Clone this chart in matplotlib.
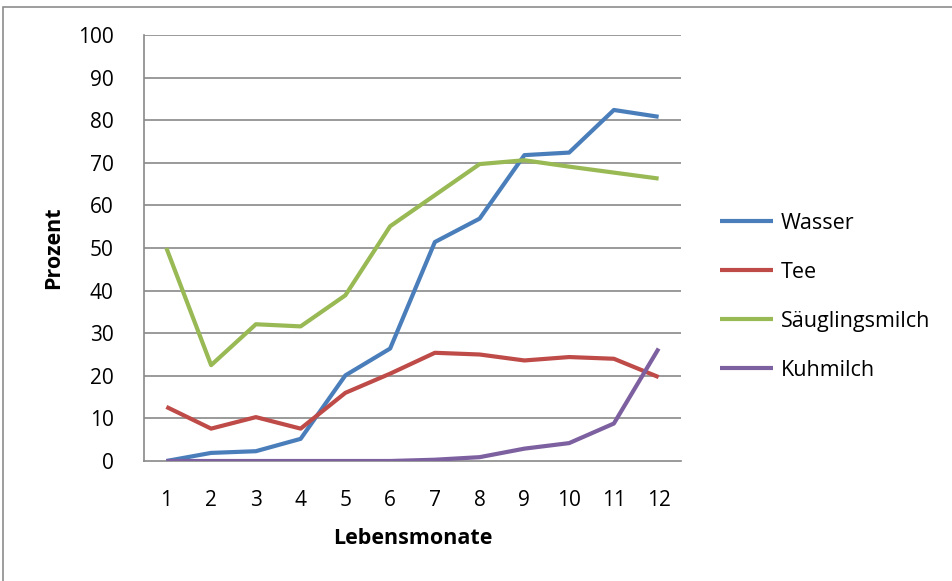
import numpy as np
import matplotlib.pyplot as plt
from matplotlib.patches import Rectangle

plt.rcParams['font.family'] = ['Open Sans', 'DejaVu Sans']

monate = [1, 2, 3, 4, 5, 6, 7, 8, 9, 10, 11, 12]
wasser = [0, 1.9, 2.3, 5.2, 20.1, 26.4, 51.4, 56.9, 71.8, 72.4, 82.4, 80.8]
tee = [12.7, 7.6, 10.3, 7.6, 16.0, 20.5, 25.4, 25.0, 23.6, 24.4, 24.0, 19.7]
saeugling = [50.0, 22.5, 32.1, 31.6, 38.9, 55.1, 62.4, 69.7, 70.6, 69.1, 67.7, 66.3]
kuhmilch = [0, 0, 0, 0, 0, 0, 0.3, 0.9, 2.9, 4.2, 8.8, 26.4]

serien = [
    ("Wasser", wasser, "#4A7EBB"),
    ("Tee", tee, "#BE4B48"),
    ("Säuglingsmilch", saeugling, "#98B954"),
    ("Kuhmilch", kuhmilch, "#7D60A0"),
]

fig = plt.figure(figsize=(9.53, 5.81), dpi=100)
ax = fig.add_axes([144 / 953, 1 - 461 / 581, 537 / 953, 426 / 581])

grau = "#898989"
for y in range(10, 101, 10):
    ax.axhline(y, color=grau, lw=1.2, zorder=1)

for name, werte, farbe in serien:
    ax.plot(monate, werte, color=farbe, lw=3, label=name, zorder=3,
            solid_joinstyle='round', solid_capstyle='butt')

ax.set_xlim(0.5, 12.5)
ax.set_ylim(0, 100)
ax.set_yticks(range(0, 101, 10))
ax.set_xticks(monate)
ax.tick_params(length=0, labelsize=15, colors="#000000")
ax.tick_params(axis='y', pad=22)
ax.tick_params(axis='x', pad=21)

for s in ['top', 'right']:
    ax.spines[s].set_visible(False)
for s in ['left', 'bottom']:
    ax.spines[s].set_color(grau)
    ax.spines[s].set_linewidth(1.2)

ax.set_ylabel("Prozent", fontsize=15.5, fontweight='bold', labelpad=10)
ax.set_xlabel("Lebensmonate", fontsize=15.5, fontweight='bold', labelpad=12)

ax.legend(loc='center left', bbox_to_anchor=(1.073, 0.385), frameon=False,
          fontsize=15.5, handlelength=2.45, handletextpad=0.35, labelspacing=1.3,
          borderpad=0, borderaxespad=0)

fig.patches.append(Rectangle((3 / 953, -0.05), 1.1, 1 - 7 / 581 + 0.05,
                             transform=fig.transFigure, fill=False,
                             edgecolor="#8c8c8c", lw=1.2, clip_on=False))

fig.savefig("out.png", dpi=100)
